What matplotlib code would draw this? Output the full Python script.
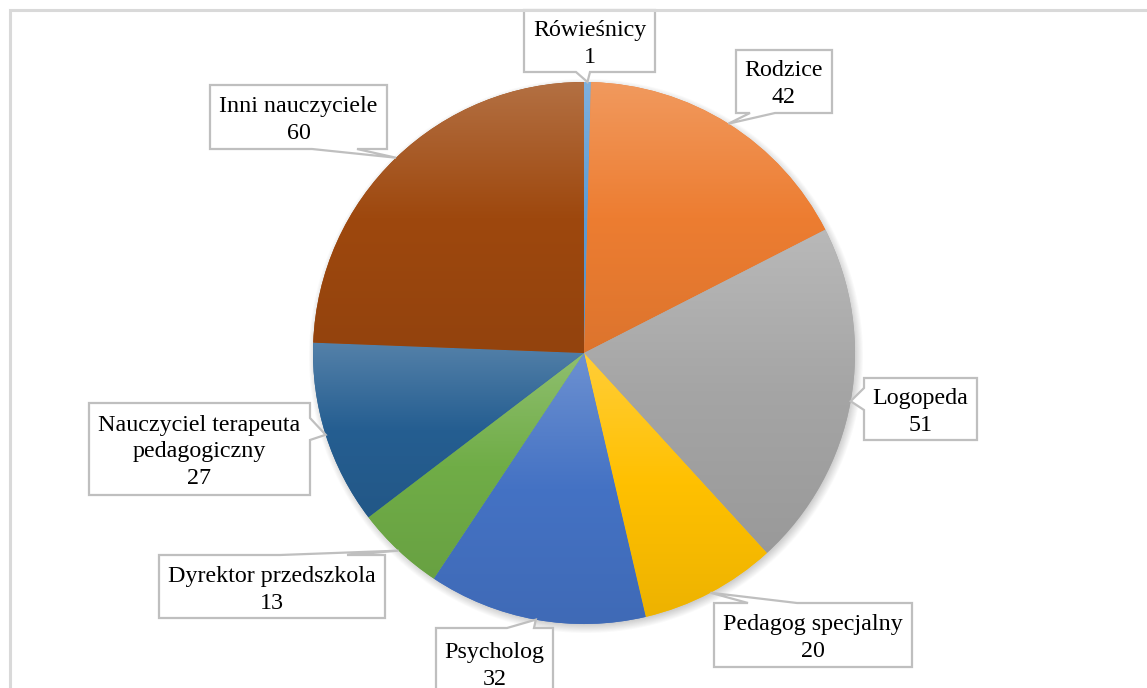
import numpy as np
import matplotlib
matplotlib.use("Agg")
import matplotlib.pyplot as plt
from matplotlib.patches import Polygon, Rectangle
from matplotlib.colors import to_rgb

# ---- data ----
categories = ["Rówieśnicy", "Rodzice", "Logopeda", "Pedagog specjalny", "Psycholog",
              "Dyrektor przedszkola", "Nauczyciel terapeuta\npedagogiczny", "Inni nauczyciele"]
values = [1, 42, 51, 20, 32, 13, 27, 60]
colors = ["#5B9BD5", "#ED7D31", "#A5A5A5", "#FFC000", "#4472C4",
          "#70AD47", "#255E91", "#9E480E"]

# ---- layout (pixel units, y measured from the top) ----
W, H = 1147, 688
CX, CY, R = 584, 353, 271
# label box: (x0, y0, x1, y1), side the pointer leaves from, pointer base interval,
# vertical centre of the text block
label_boxes = [
    ((524, 10, 655, 72), "bottom", (576, 590), 44),
    ((736, 50, 832, 113), "bottom", (750, 775), 84),
    ((864, 378, 977, 440), "left", (388, 410), 412),
    ((714, 603, 912, 667), "top", (748, 797), 638),
    ((436, 628, 553, 720), "top", (507, 534), 666),
    ((159, 555, 385, 618), "top", (280, 347), 590),
    ((89, 403, 310, 495), "right", (418, 440), 452),
    ((210, 85, 387, 149), "bottom", (312, 357), 120),
]

FONT = "Liberation Serif"
FS = 17.3
LINE = 27


def Y(y):
    return H - y


fig = plt.figure(figsize=(W / 100, H / 100), dpi=100)
ax = fig.add_axes([0, 0, 1, 1])

# soft shadow under the pie
pad = 20
xs = np.arange(CX - R - pad, CX + R + pad)
ys = np.arange(Y(CY) - R - pad, Y(CY) + R + pad)
XX, YY = np.meshgrid(xs, ys)
d = np.hypot(XX - (CX + 2), YY - (Y(CY) - 3))
alpha = 0.32 * np.clip((R + 7 - d) / 10, 0, 1)
sh = np.zeros(XX.shape + (4,))
sh[..., :3] = 0.35
sh[..., 3] = alpha
ax.imshow(sh, extent=(xs[0], xs[-1], ys[0], ys[-1]), origin="lower",
          zorder=1, interpolation="bilinear")

wedges, _ = ax.pie(values, colors=colors, startangle=90, counterclock=False,
                   center=(CX, Y(CY)), radius=R,
                   wedgeprops=dict(linewidth=0, zorder=2))


def grad(c):
    base = np.array(to_rgb(c))
    top = base + (1 - base) * 0.22
    bottom = base * 0.93
    t = np.linspace(0, 1, 256)[:, None]  # 0 bottom -> 1 top
    lower = bottom + (base - bottom) * np.clip(t * 2, 0, 1)
    upper = base + (top - base) * np.clip(t * 2 - 1, 0, 1)
    g = np.where(t < 0.5, lower, upper)
    return g[:, None, :]


for w, c in zip(wedges, colors):
    ext = w.get_path().get_extents()
    im = ax.imshow(grad(c), extent=(ext.x0 - 1, ext.x1 + 1, ext.y0 - 1, ext.y1 + 1),
                   origin="lower", aspect="auto", zorder=3, interpolation="bilinear")
    im.set_clip_path(w)

# callout labels, pointer tip at the middle angle of each slice on the rim
total = sum(values)
cum = 0
for cat, v, (box, side, base, ymid) in zip(categories, values, label_boxes):
    mid = (cum + v / 2) / total * 2 * np.pi
    cum += v
    tx = CX + R * np.sin(mid)
    ty = CY - R * np.cos(mid)
    x0, y0, x1, y1 = box
    b0, b1 = base
    if side == "bottom":
        pts = [(x0, y0), (x1, y0), (x1, y1), (b1, y1), (tx, ty), (b0, y1), (x0, y1)]
    elif side == "top":
        pts = [(x0, y0), (b0, y0), (tx, ty), (b1, y0), (x1, y0), (x1, y1), (x0, y1)]
    elif side == "left":
        pts = [(x0, y0), (x1, y0), (x1, y1), (x0, y1), (x0, b1), (tx, ty), (x0, b0)]
    else:
        pts = [(x0, y0), (x1, y0), (x1, b0), (tx, ty), (x1, b1), (x1, y1), (x0, y1)]
    poly = Polygon([(px, Y(py)) for px, py in pts], closed=True, facecolor="white",
                   edgecolor="#BFBFBF", linewidth=1.6, zorder=5, joinstyle="miter")
    ax.add_patch(poly)
    lines = cat.split("\n") + [str(v)]
    n = len(lines)
    for i, ln in enumerate(lines):
        ly = ymid + (i - (n - 1) / 2) * LINE
        ax.text((x0 + x1) / 2, Y(ly), ln, family=FONT, fontsize=FS, color="black",
                ha="center", va="center", zorder=6)

# chart area frame
ax.add_patch(Rectangle((10, -20), W + 20, Y(10) + 20, facecolor="none",
                       edgecolor="#D9D9D9", linewidth=2.2, zorder=7))

ax.set_xlim(0, W)
ax.set_ylim(0, H)
ax.set_aspect("auto")
ax.axis("off")
fig.savefig("out.png", dpi=100, facecolor="white")
